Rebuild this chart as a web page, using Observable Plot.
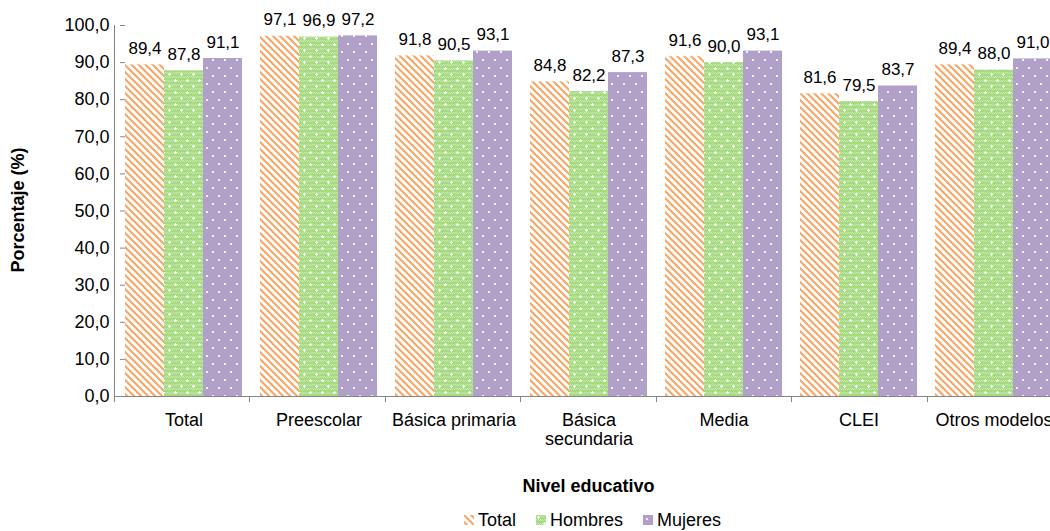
<!DOCTYPE html>
<html>
<head>
<meta charset="utf-8">
<script src="https://cdn.jsdelivr.net/npm/d3@7"></script>
<script src="https://cdn.jsdelivr.net/npm/@observablehq/plot@0.6"></script>
<style>
  html, body { margin: 0; padding: 0; background: #fff; overflow: hidden; width: 1050px; height: 531px; }
  body { font-family: "Liberation Sans", Arial, sans-serif; color: #000; position: relative; }
  #chart { position: absolute; left: 0; top: 0; width: 1063px; }
  #chart svg { max-width: none !important; }
  #ytitle { position: absolute; left: 18px; top: 210px; transform: translate(-50%, -50%) rotate(-90deg); white-space: nowrap; font-weight: bold; font-size: 18px; line-height: 20px; }
  #xtitle { position: absolute; left: 114px; width: 949px; top: 476px; text-align: center; font-weight: bold; font-size: 18px; line-height: 20px; }
  #legend { position: absolute; left: 118px; width: 949px; top: 510px; display: flex; justify-content: center; align-items: center; font-size: 18px; line-height: 20px; }
  .item { display: flex; align-items: center; margin: 0 10px; }
  .item svg { margin-right: 4px; }
</style>
</head>
<body>
<svg width="0" height="0" style="position:absolute">
  <defs>
    <pattern id="pTotal" patternUnits="userSpaceOnUse" width="7" height="7">
      <rect width="7" height="7" fill="#fff"/>
      <path d="M0,0 L7,7 M-3.5,3.5 L3.5,10.5 M3.5,-3.5 L10.5,3.5" stroke="#F9A462" stroke-width="2"/>
    </pattern>
    <pattern id="pHombres" patternUnits="userSpaceOnUse" width="12" height="12">
      <rect width="12" height="12" fill="#A6DB81"/>
      <path d="M0,0h1v1h-1z M2,0h1v1h-1z M4,0h1v1h-1z M6,0h1v1h-1z M8,0h1v1h-1z M10,0h1v1h-1z M1,1h1v1h-1z M3,1h1v1h-1z M5,1h1v1h-1z M7,1h1v1h-1z M9,1h1v1h-1z M11,1h1v1h-1z" fill="#C8EAB0"/>
      <path d="M0,0h1v1h-1z M2,0h1v1h-1z M4,0h1v1h-1z M6,0h1v1h-1z M8,0h1v1h-1z M10,0h1v1h-1z M1,1h1v1h-1z M3,1h1v1h-1z M5,1h1v1h-1z M7,1h1v1h-1z M9,1h1v1h-1z M11,1h1v1h-1z" fill="#C8EAB0" transform="translate(0,4)"/>
      <path d="M0,0h1v1h-1z M2,0h1v1h-1z M4,0h1v1h-1z M6,0h1v1h-1z M8,0h1v1h-1z M10,0h1v1h-1z M1,1h1v1h-1z M3,1h1v1h-1z M5,1h1v1h-1z M7,1h1v1h-1z M9,1h1v1h-1z M11,1h1v1h-1z" fill="#C8EAB0" transform="translate(0,8)"/>
      <path d="M2,1h1v3h-1z M1,2h3v1h-3z M8,7h1v3h-1z M7,8h3v1h-3z" fill="#fff"/>
    </pattern>
    <pattern id="pMujeres" patternUnits="userSpaceOnUse" width="12" height="16">
      <rect width="12" height="16" fill="#B1A0C8"/>
      <rect x="3" y="3" width="2" height="2" fill="#F4F0F8"/>
      <rect x="9" y="11" width="2" height="2" fill="#F4F0F8"/>
    </pattern>
  </defs>
</svg>
<div id="chart"></div>
<div id="ytitle">Porcentaje (%)</div>
<div id="xtitle">Nivel educativo</div>
<div id="legend"></div>
<script>
// ---- data ----
const categories = ["Total", "Preescolar", "Básica primaria", "Básica secundaria", "Media", "CLEI", "Otros modelos"];
const tickLabels = ["Total", "Preescolar", "Básica primaria", "Básica\nsecundaria", "Media", "CLEI", "Otros modelos"];
const seriesNames = ["Total", "Hombres", "Mujeres"];
const totalValues   = [89.4, 97.1, 91.8, 84.8, 91.6, 81.6, 89.4];
const hombresValues = [87.8, 96.9, 90.5, 82.2, 90.0, 79.5, 88.0];
const mujeresValues = [91.1, 97.2, 93.1, 87.3, 93.1, 83.7, 91.0];
const yTicks = [0, 10, 20, 30, 40, 50, 60, 70, 80, 90, 100];

const patterns = {Total: "url(#pTotal)", Hombres: "url(#pHombres)", Mujeres: "url(#pMujeres)"};
const valueSets = [totalValues, hombresValues, mujeresValues];
const rows = [];
categories.forEach((c, i) => {
  seriesNames.forEach((s, k) => rows.push({category: c, series: s, value: valueSets[k][i]}));
});
const fmt = v => v.toFixed(1).replace(".", ",");

const W = 1063, H = 460;
const plot = Plot.plot({
  width: W,
  height: H,
  marginLeft: 114,
  marginRight: 0,
  marginTop: 25,
  marginBottom: 64,
  style: {fontFamily: "'Liberation Sans', Arial, sans-serif", fontSize: "18px", color: "#000", background: "transparent", overflow: "visible", maxWidth: "none"},
  fx: {domain: categories, paddingInner: 0.1365, paddingOuter: 0.06825},
  x: {domain: seriesNames, padding: 0},
  y: {domain: [0, 100]},
  color: {type: "identity"},
  marks: [
    Plot.axisY({ticks: yTicks, tickFormat: fmt, tickSize: 5, tickPadding: 11, label: null, fontSize: 18, stroke: "#868686"}),
    Plot.axisX({ticks: [], label: null}),
    Plot.axisFx({anchor: "bottom", tickSize: 0, tickPadding: 15, label: null, fontSize: 18, lineHeight: 1.1,
      tickFormat: d => tickLabels[categories.indexOf(d)]}),
    Plot.barY(rows, {fx: "category", x: "series", y: "value", fill: d => patterns[d.series]}),
    Plot.text(rows, {fx: "category", x: "series", y: "value", text: d => fmt(d.value), lineAnchor: "bottom", dy: -11, fontSize: 17, fill: "#000"})
  ]
});
document.getElementById("chart").appendChild(plot);

// Excel-like axis lines and category boundary ticks
const fxd = plot.scale("fx"), yd = plot.scale("y");
const fxs = d3.scaleBand().domain(fxd.domain).range(fxd.range)
  .paddingInner(fxd.paddingInner).paddingOuter(fxd.paddingOuter).align(fxd.align ?? 0.5);
const step = fxs.step(), gap = step - fxs.bandwidth();
const y0 = yd.apply(0), y100 = yd.apply(100);
const bounds = categories.map(c => fxs(c) - gap / 2).concat([fxs(categories[categories.length - 1]) - gap / 2 + step]);
const g = d3.select(plot).append("g").attr("stroke", "#868686").attr("stroke-width", 1).attr("shape-rendering", "crispEdges");
g.append("line").attr("x1", bounds[0]).attr("x2", bounds[0]).attr("y1", y100).attr("y2", y0);
g.append("line").attr("x1", bounds[0]).attr("x2", bounds[bounds.length - 1]).attr("y1", y0).attr("y2", y0);
bounds.forEach(b => g.append("line").attr("x1", b).attr("x2", b).attr("y1", y0).attr("y2", y0 + 6));

// legend
const legend = d3.select("#legend");
seriesNames.forEach(s => {
  const it = legend.append("div").attr("class", "item");
  it.append("svg").attr("width", 10).attr("height", 10)
    .append("rect").attr("width", 10).attr("height", 10).attr("fill", patterns[s]);
  it.append("span").text(s);
});
</script>
</body>
</html>
